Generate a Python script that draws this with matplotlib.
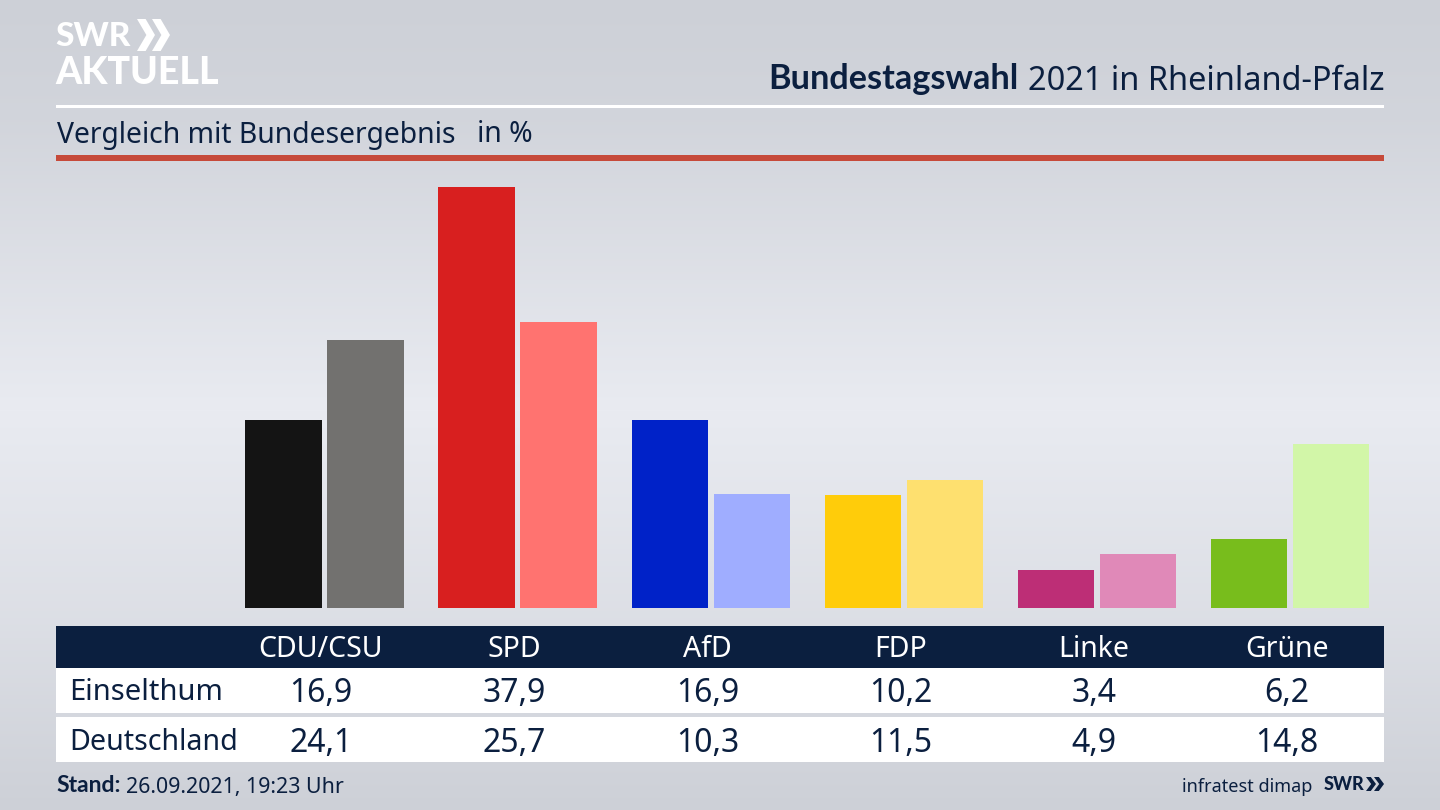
import numpy as np
import matplotlib
matplotlib.use("Agg")
import matplotlib.pyplot as plt
from matplotlib.patches import Rectangle, Polygon

parties = ["CDU/CSU", "SPD", "AfD", "FDP", "Linke", "Grüne"]
einselthum = [16.9, 37.9, 16.9, 10.2, 3.4, 6.2]
deutschland = [24.1, 25.7, 10.3, 11.5, 4.9, 14.8]
row_names = ["Einselthum", "Deutschland"]
colors_a = ["#141414", "#d81f1f", "#0022c8", "#ffcc0a", "#bd2e76", "#78bd1c"]
colors_b = ["#72716f", "#ff7370", "#9fadff", "#fee06f", "#e089b8", "#d2f6a8"]

W, H = 1440, 810
NAVY = "#0b1f3f"
FONT = "Noto Sans"
BOLD = "Lato"
plt.rcParams["font.family"] = [FONT, "DejaVu Sans"]

fig = plt.figure(figsize=(W / 100, H / 100), dpi=100)

# Canvas in pixel coordinates
bg = fig.add_axes([0, 0, 1, 1])
bg.set_xlim(0, W)
bg.set_ylim(H, 0)
bg.axis("off")
stops_y = [0, 120, 410, 620, 810]
stops_v = [0.0, 0.18, 1.0, 0.55, 0.0]
t = np.interp(np.arange(H), stops_y, stops_v)[:, None, None]
low = np.array([205, 208, 215]) / 255
high = np.array([233, 235, 241]) / 255
bg.imshow(low + (high - low) * t, extent=(0, W, H, 0), aspect="auto", zorder=0)
bg.set_xlim(0, W)
bg.set_ylim(H, 0)


def rect(x0, y0, x1, y1, color):
    bg.add_patch(Rectangle((x0, y0), x1 - x0, y1 - y0, fc=color, ec="none", zorder=1))


def chevrons(x, y, h, color, gap, w):
    for k in range(2):
        x0 = x + k * gap
        t_ = w * 0.48
        bg.add_patch(Polygon([(x0, y), (x0 + t_, y), (x0 + w, y + h / 2),
                              (x0 + t_, y + h), (x0, y + h), (x0 + w - t_, y + h / 2)],
                             closed=True, fc=color, ec="none", zorder=2))


# Header
rect(56, 104.5, 1384, 107.5, "white")
rect(56, 155, 1384, 160.5, "#c64a3a")
bg.text(55, 36, "SWR", color="white", fontsize=24, fontweight="black", family=BOLD,
        va="center", ha="left", zorder=2)
chevrons(137, 19, 32, "white", 15, 18)
bg.text(55, 73, "AKTUELL", color="white", fontsize=27, fontweight="black", family=BOLD,
        va="center", ha="left", zorder=2)
t1 = bg.text(1384, 81, "2021 in Rheinland-Pfalz", color=NAVY, fontsize=23.4, va="center", ha="right", zorder=2)
fig.canvas.draw()
bb = t1.get_window_extent()
bg.text(bb.x0 - 9, 79, "Bundestagswahl", color=NAVY, fontsize=24.7, fontweight="bold", family=BOLD,
        va="center", ha="right", zorder=2)
bg.text(57, 135, "Vergleich mit Bundesergebnis", color=NAVY, fontsize=20.4, va="center", ha="left", zorder=2)
bg.text(477, 135, "in %", color=NAVY, fontsize=20.4, va="center", ha="left", zorder=2)

# Bars
group_px = 193.1
first_px = 324.6
base_px = 608
unit_px = 11.11
ax = fig.add_axes([56 / W, 1 - base_px / H, 1328 / W, (base_px - 170) / H])
ax.set_xlim((56 - first_px) / group_px, (1384 - first_px) / group_px)
ax.set_ylim(0, (base_px - 170) / unit_px)
ax.axis("off")
ax.patch.set_alpha(0)
x = np.arange(len(parties))
ax.bar(x - 0.2125, einselthum, 0.396, color=colors_a)
ax.bar(x + 0.2125, deutschland, 0.396, color=colors_b)

# Table
rect(56, 626, 1384, 668, NAVY)
rect(56, 668, 1384, 713, "white")
rect(56, 717, 1384, 762, "white")
for i, name in enumerate(parties):
    cx = 321 + i * 193.2
    bg.text(cx, 649.5, name, color="white", fontsize=20.5, ha="center", va="center", zorder=2)
    bg.text(cx, 694, f"{einselthum[i]:.1f}".replace(".", ","), color=NAVY, fontsize=23,
            ha="center", va="center", zorder=2)
    bg.text(cx, 743, f"{deutschland[i]:.1f}".replace(".", ","), color=NAVY, fontsize=23,
            ha="center", va="center", zorder=2)
bg.text(69.5, 693, row_names[0], color=NAVY, fontsize=21, ha="left", va="center", zorder=2)
bg.text(69.5, 743, row_names[1], color=NAVY, fontsize=20.6, ha="left", va="center", zorder=2)

# Footer
bg.text(56, 786, "Stand:", color=NAVY, fontsize=16.5, fontweight="bold", family=BOLD, ha="left", va="center", zorder=2)
bg.text(126, 787, "26.09.2021, 19:23 Uhr", color=NAVY, fontsize=15.4, ha="left", va="center", zorder=2)
bg.text(1312, 787, "infratest dimap", color=NAVY, fontsize=13, ha="right", va="center", zorder=2)
bg.text(1324, 785, "SWR", color=NAVY, fontsize=13, fontweight="black", family=BOLD, ha="left", va="center", zorder=2)
chevrons(1366, 777, 14, NAVY, 8, 10)

fig.savefig("out.png", dpi=100)
